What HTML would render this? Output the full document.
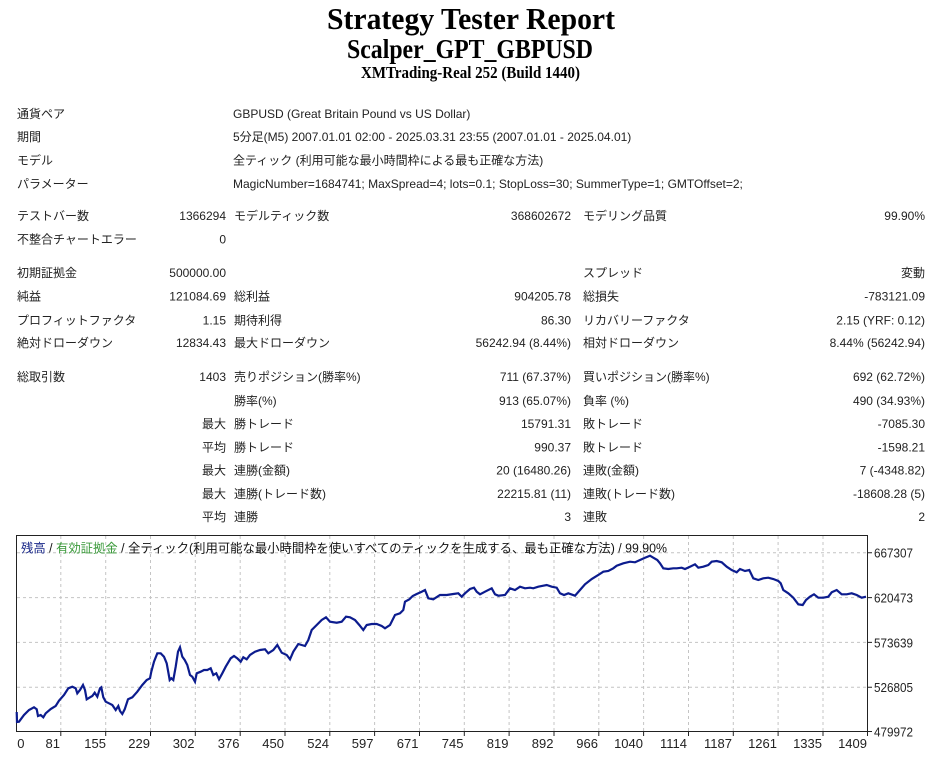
<!DOCTYPE html>
<html><head><meta charset="utf-8"><style>
html,body{margin:0;padding:0;background:#fff;}
body{width:940px;height:761px;overflow:hidden;}
svg{display:block;}
.t{font-family:"Liberation Sans","Noto Sans CJK JP",sans-serif;font-size:12px;fill:#222;}
.r{text-anchor:end;}
</style></head><body>
<svg width="940" height="761" viewBox="0 0 940 761" xmlns="http://www.w3.org/2000/svg">
<rect width="940" height="761" fill="#fff"/>
<text x="471" y="29" text-anchor="middle" font-family="Liberation Serif, serif" font-weight="bold" font-size="31" textLength="288" lengthAdjust="spacingAndGlyphs" fill="#000">Strategy Tester Report</text>
<text x="470" y="58" text-anchor="middle" font-family="Liberation Serif, serif" font-weight="bold" font-size="27" textLength="246" lengthAdjust="spacingAndGlyphs" fill="#000">Scalper_GPT_GBPUSD</text>
<text x="470.5" y="78" text-anchor="middle" font-family="Liberation Serif, serif" font-weight="bold" font-size="16.5" textLength="219" lengthAdjust="spacingAndGlyphs" fill="#000">XMTrading-Real 252 (Build 1440)</text>

<g class="t">
<text x="17" y="118">通貨ペア</text><text x="233" y="118">GBPUSD (Great Britain Pound vs US Dollar)</text>
<text x="17" y="141">期間</text><text x="233" y="141">5分足(M5) 2007.01.01 02:00 - 2025.03.31 23:55 (2007.01.01 - 2025.04.01)</text>
<text x="17" y="164.5">モデル</text><text x="233" y="164.5">全ティック (利用可能な最小時間枠による最も正確な方法)</text>
<text x="17" y="188">パラメーター</text><text x="233" y="188">MagicNumber=1684741; MaxSpread=4; lots=0.1; StopLoss=30; SummerType=1; GMTOffset=2;</text>

<text x="17" y="220">テストバー数</text><text class="r" x="226" y="220">1366294</text><text x="234" y="220">モデルティック数</text><text class="r" x="571" y="220">368602672</text><text x="583" y="220">モデリング品質</text><text class="r" x="925" y="220">99.90%</text>
<text x="17" y="243.5">不整合チャートエラー</text><text class="r" x="226" y="243.5">0</text>

<text x="17" y="277">初期証拠金</text><text class="r" x="226" y="277">500000.00</text><text x="583" y="277">スプレッド</text><text class="r" x="925" y="277">変動</text>
<text x="17" y="300.5">純益</text><text class="r" x="226" y="300.5">121084.69</text><text x="234" y="300.5">総利益</text><text class="r" x="571" y="300.5">904205.78</text><text x="583" y="300.5">総損失</text><text class="r" x="925" y="300.5">-783121.09</text>
<text x="17" y="324.5">プロフィットファクタ</text><text class="r" x="226" y="324.5">1.15</text><text x="234" y="324.5">期待利得</text><text class="r" x="571" y="324.5">86.30</text><text x="583" y="324.5">リカバリーファクタ</text><text class="r" x="925" y="324.5">2.15 (YRF: 0.12)</text>
<text x="17" y="347">絶対ドローダウン</text><text class="r" x="226" y="347">12834.43</text><text x="234" y="347">最大ドローダウン</text><text class="r" x="571" y="347">56242.94 (8.44%)</text><text x="583" y="347">相対ドローダウン</text><text class="r" x="925" y="347">8.44% (56242.94)</text>

<text x="17" y="381">総取引数</text><text class="r" x="226" y="381">1403</text><text x="234" y="381">売りポジション(勝率%)</text><text class="r" x="571" y="381">711 (67.37%)</text><text x="583" y="381">買いポジション(勝率%)</text><text class="r" x="925" y="381">692 (62.72%)</text>
<text x="234" y="405">勝率(%)</text><text class="r" x="571" y="405">913 (65.07%)</text><text x="583" y="405">負率 (%)</text><text class="r" x="925" y="405">490 (34.93%)</text>
<text class="r" x="226" y="428">最大</text><text x="234" y="428">勝トレード</text><text class="r" x="571" y="428">15791.31</text><text x="583" y="428">敗トレード</text><text class="r" x="925" y="428">-7085.30</text>
<text class="r" x="226" y="451.5">平均</text><text x="234" y="451.5">勝トレード</text><text class="r" x="571" y="451.5">990.37</text><text x="583" y="451.5">敗トレード</text><text class="r" x="925" y="451.5">-1598.21</text>
<text class="r" x="226" y="474.5">最大</text><text x="234" y="474.5">連勝(金額)</text><text class="r" x="571" y="474.5">20 (16480.26)</text><text x="583" y="474.5">連敗(金額)</text><text class="r" x="925" y="474.5">7 (-4348.82)</text>
<text class="r" x="226" y="498">最大</text><text x="234" y="498">連勝(トレード数)</text><text class="r" x="571" y="498">22215.81 (11)</text><text x="583" y="498">連敗(トレード数)</text><text class="r" x="925" y="498">-18608.28 (5)</text>
<text class="r" x="226" y="521">平均</text><text x="234" y="521">連勝</text><text class="r" x="571" y="521">3</text><text x="583" y="521">連敗</text><text class="r" x="925" y="521">2</text>
</g>

<!-- chart -->
<g stroke="#c4c4c4" stroke-width="1" stroke-dasharray="3,3" fill="none">
<path d="M60.8 536V731M105.7 536V731M150.5 536V731M195.3 536V731M240.2 536V731M285 536V731M329.8 536V731M374.6 536V731M419.5 536V731M464.3 536V731M509.1 536V731M554 536V731M598.8 536V731M643.6 536V731M688.5 536V731M733.3 536V731M778.1 536V731M823 536V731"/>
<path d="M17 552.8H867M17 597.6H867M17 642.4H867M17 687.2H867"/>
</g>
<rect x="16.5" y="535.5" width="851" height="196" fill="none" stroke="#222" stroke-width="1"/>
<g stroke="#222" stroke-width="1">
<path d="M60.8 732v4M105.7 732v4M150.5 732v4M195.3 732v4M240.2 732v4M285 732v4M329.8 732v4M374.6 732v4M419.5 732v4M464.3 732v4M509.1 732v4M554 732v4M598.8 732v4M643.6 732v4M688.5 732v4M733.3 732v4M778.1 732v4M823 732v4M867.5 732v4"/>
<path d="M868 552.8h4M868 597.6h4M868 642.4h4M868 687.2h4M868 731.5h4"/>
</g>
<text x="21" y="552.5" font-family="Liberation Sans,'Noto Sans CJK JP',sans-serif" font-size="12.5" textLength="646" lengthAdjust="spacingAndGlyphs" fill="#111"><tspan fill="#1b2a8a">残高</tspan> / <tspan fill="#3b9a3b">有効証拠金</tspan> / 全ティック(利用可能な最小時間枠を使いすべてのティックを生成する、最も正確な方法) / 99.90%</text>

<polyline fill="none" stroke="#0c1c8e" stroke-width="2.2" stroke-linejoin="miter" points="16.7,712 17,722 19,721.7 24,715 29,710 34,707.3 36.7,709.3 38,716 40.7,715 43.3,717.3 45.7,713.3 50.7,709 55.7,706 59,700.7 64,695 68.3,688.3 72.3,686.7 75.7,688.3 77.3,693.3 80,690 83,685 85,690 86.7,699.3 90,697.3 92.3,696 94.7,692.7 97.3,696.7 100,688.3 101.3,687.3 103.3,697.3 105.7,701.7 109,703.3 112.3,705 115.7,710 118.3,706 120,711 122.3,714 124.7,709.3 128,699.3 132.3,697.3 137.3,691.7 142.3,685 146.7,680 150,678.3 151.3,671.7 154,661.7 157.3,653.3 160.7,653.3 164,656.7 166.7,663.3 169.7,680 171.3,678.3 173.3,680 175.7,666.7 178,651.7 180,647.3 182.3,656.7 184.7,660 187.3,665 190,675 192.3,676.7 195,681.7 196.7,673.3 200.7,671.7 204,670 207.3,670 210.7,668.3 213.3,675 216.3,673.3 219,679.3 222.3,673.3 225.7,666.7 230.7,658.3 234,656 237.3,658.3 240.7,661.7 243.3,657.3 246.7,659.3 250,655 255,651.7 260,650 265,649.3 268.3,653.3 273.3,650 277.3,645 281.7,652.7 286.7,655 290,659.3 293.3,651.7 298.3,644 305,646 308.3,640 311.7,630 316.7,625 321.7,620 326,617.3 330,621.7 336.7,622.7 341.7,621.7 346,616.7 350,617.3 355,620 359.3,625 363.3,630 366.7,625 371.7,624 376.7,624 381.7,626 385,628.3 390,625 395,615 400,613.3 403.3,610 405,601.7 409.3,599.3 412.7,596 416.7,594 421.7,591.7 425,590 428.3,598.3 433.3,599.3 440,595 446.7,595 453.3,594 458.3,593.3 461.7,596.7 465,593.3 470,589 474,587.7 476.7,591.7 480,594.3 485,591.7 491.7,588.3 495,594.3 498.3,595.7 505,595 510,588.3 515,590 520,586.7 525,588.3 530,587.7 533.3,588.3 538.3,586.7 543.3,585.7 546.7,585 551.7,586.7 556.7,587.7 560,593.3 564,595 568.3,593.3 575,595.7 580,590 585,584.3 591.7,579 598.3,575 603.3,571.7 608.3,571 613.3,568.3 616.7,565.7 623.3,563.3 630,561.7 635,562.3 640,560 645,557.7 650,555.7 653.3,557.7 657.3,560 660,563.3 663.3,568.3 668.3,569 673.3,568.3 676.7,568.3 681.7,567.7 685,569 690,566.7 695,564.3 698.3,567.7 703.3,566.7 708.3,565 711.7,561.7 716.7,561 721.7,562.3 726.7,566.7 731.7,570 736.7,572.3 740,569 745,571 749.3,570 753.3,578.3 758.3,580 763.3,578.3 768.3,577.7 773.3,579 778.3,581 780.7,583.3 783.3,590 788.3,593.3 793.3,597.7 798.3,604.3 802.7,605 806,600 810,596.7 814,594.3 818.3,597.7 823.3,597.7 828.3,596.7 831.7,592.3 836.7,590 841.7,594.3 846.7,594.3 851.7,593.3 856.7,595 861.7,597.7 866,596.7"/>

<g font-family="Liberation Sans,sans-serif" font-size="13" fill="#222">
<text x="874" y="557.5" textLength="39" lengthAdjust="spacingAndGlyphs">667307</text>
<text x="874" y="602.5" textLength="39" lengthAdjust="spacingAndGlyphs">620473</text>
<text x="874" y="647.5" textLength="39" lengthAdjust="spacingAndGlyphs">573639</text>
<text x="874" y="692" textLength="39" lengthAdjust="spacingAndGlyphs">526805</text>
<text x="874" y="736.5" textLength="39" lengthAdjust="spacingAndGlyphs">479972</text>
</g>
<g font-family="Liberation Sans,sans-serif" font-size="13" fill="#222" text-anchor="end">
<text x="24.5" y="748">0</text>
<text x="60" y="748">81</text>
<text x="106" y="748">155</text>
<text x="150" y="748">229</text>
<text x="194.5" y="748">302</text>
<text x="239.5" y="748">376</text>
<text x="284" y="748">450</text>
<text x="329" y="748">524</text>
<text x="373.5" y="748">597</text>
<text x="418.5" y="748">671</text>
<text x="463.5" y="748">745</text>
<text x="508.5" y="748">819</text>
<text x="553.5" y="748">892</text>
<text x="598" y="748">966</text>
<text x="643" y="748">1040</text>
<text x="687" y="748">1114</text>
<text x="732" y="748">1187</text>
<text x="777" y="748">1261</text>
<text x="822" y="748">1335</text>
<text x="867" y="748">1409</text>
</g>
</svg>
</body></html>
